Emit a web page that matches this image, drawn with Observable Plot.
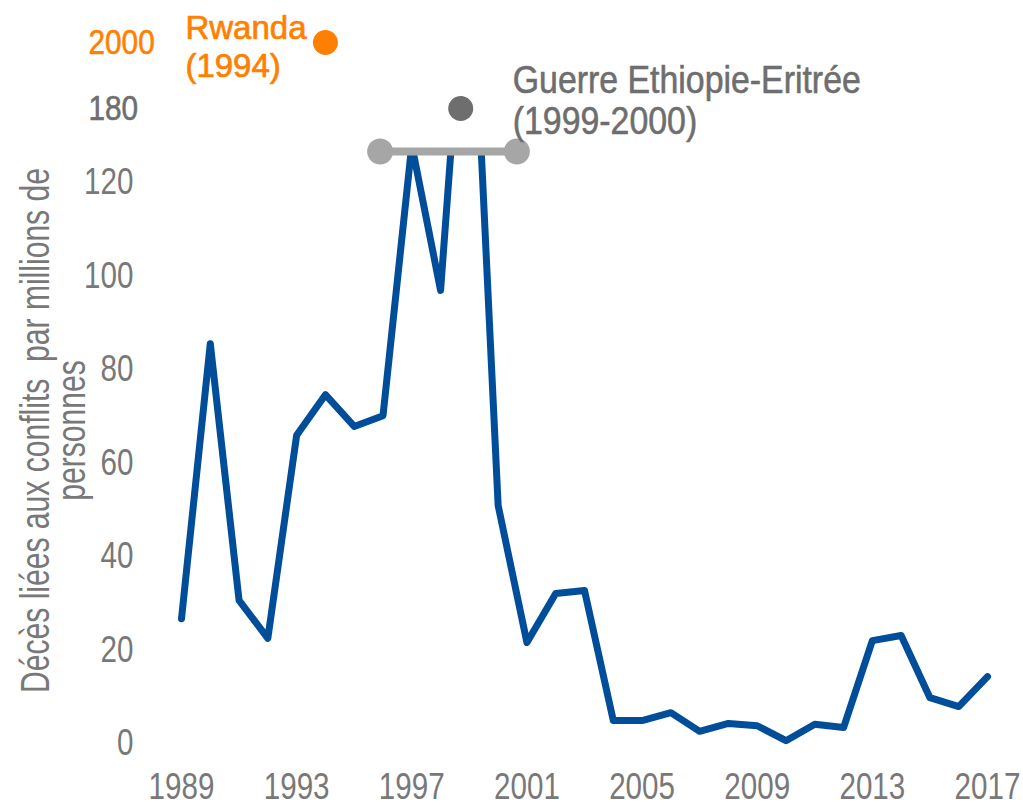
<!DOCTYPE html>
<html>
<head>
<meta charset="utf-8">
<script src="https://cdn.jsdelivr.net/npm/d3@7"></script>
<script src="https://cdn.jsdelivr.net/npm/@observablehq/plot@0.6"></script>
<style>
  html, body { margin: 0; padding: 0; background: #fff; }
  #wrap { position: relative; width: 1023px; height: 806px; }
  #wrap > svg, #wrap > figure { position: absolute; left: 0; top: 0; margin: 0; }
</style>
</head>
<body>
<div id="wrap"></div>
<script>
// ---- data ----
const years = [1989,1990,1991,1992,1993,1994,1995,1996,1997,1998,1999,2000,2001,2002,2003,2004,2005,2006,2007,2008,2009,2010,2011,2012,2013,2014,2015,2016,2017];
const deaths = [26.7,85.5,30.6,22.5,65.9,74.6,67.8,70.1,128,96.9,180,50.9,21.6,32.1,32.7,4.9,4.9,6.6,2.6,4.3,3.8,0.6,4.1,3.4,22.0,23.1,9.8,7.9,14.3];
const xTicks = [1989,1993,1997,2001,2005,2009,2013,2017];
const yTicks = [0,20,40,60,80,100,120];
const yTop = 126.6;                       // value where the axis is broken
const breakYears = [1995.9, 2000.65];      // extent of the break marker
const breakLevels = ["2000","180"];        // labels of the broken (upper) axis
const outliers = [
  {year: 1994, level: "2000", label: "Rwanda\n(1994)"},
  {year: 1998.7, level: "180", label: "Guerre Ethiopie-Eritrée\n(1999-2000)"}
];
const yTitle = "Décès liées aux conflits\u00a0 par millions de\npersonnes";

const series = years.map((y, i) => ({year: y, value: deaths[i]}));
const breakBar = breakYears.map(x => ({year: x, value: yTop}));

const FONT = "'Liberation Sans', Arial, sans-serif";
const GREY = "#787878";
const BLUE = "#004E99";
const ORANGE = "#FF8000";
const DGREY = "#6E6E6E";
const LGREY = "#A6A6A6";

// horizontal condensing per font size (emulates a narrow typeface)
const condenseBySize = {36: 0.81, 37: 0.8, 40: 0.752, 35: 0.85, 33: 1.0, 39: 0.868};

const W = 1023, H = 806;
const xOpts = {domain: [1989, 2017]};

// ---- main chart ----
const mainPlot = Plot.plot({
  width: W, height: H,
  marginLeft: 171, marginRight: 26, insetLeft: 10, insetRight: 10,
  marginTop: 151, marginBottom: 53, insetBottom: 10,
  style: {fontFamily: FONT, fontSize: "37px", color: GREY, background: "transparent"},
  x: {...xOpts, ticks: xTicks, tickFormat: "d", tickSize: 0, tickPadding: 19, label: null},
  y: {domain: [0, yTop], ticks: yTicks, tickSize: 0, tickPadding: 38, label: null},
  marks: [
    Plot.line(series, {x: "year", y: "value", stroke: BLUE, strokeWidth: 7,
      strokeLinejoin: "round", strokeLinecap: "round", clip: true}),
    Plot.line(breakBar, {x: "year", y: "value", stroke: LGREY, strokeWidth: 8}),
    Plot.dot(breakBar, {x: "year", y: "value", r: 13, fill: LGREY}),
    Plot.text([yTitle], {frameAnchor: "left", textAnchor: "middle", rotate: -90, dx: -116, dy: -22,
      fill: GREY, fontSize: 40, lineHeight: 0.9})
  ]
});

// ---- upper, broken part of the axis ----
const upperPlot = Plot.plot({
  width: W, height: H,
  marginLeft: 171, marginRight: 26, insetLeft: 10, insetRight: 10,
  style: {fontFamily: FONT, fontSize: "33px", background: "transparent"},
  x: {...xOpts, axis: null},
  y: {type: "point", domain: breakLevels, range: [42, 108], padding: 0, axis: null},
  marks: [
    Plot.text([breakLevels[0]], {y: d => d, frameAnchor: "left", textAnchor: "start", dx: -83,
      fill: ORANGE, stroke: ORANGE, strokeWidth: 0.6, fontSize: 35}),
    Plot.text([breakLevels[1]], {y: d => d, frameAnchor: "left", textAnchor: "start", dx: -83,
      fill: DGREY, stroke: DGREY, strokeWidth: 0.6, fontSize: 35}),
    Plot.dot([outliers[0]], {x: "year", y: "level", r: 12.5, fill: ORANGE}),
    Plot.dot([outliers[1]], {x: "year", y: "level", r: 12.5, fill: DGREY}),
    Plot.text([outliers[0]], {x: "year", y: "level", text: "label", textAnchor: "start",
      dx: -140, dy: 3, fill: ORANGE, stroke: ORANGE, strokeWidth: 0.7, fontSize: 33, lineHeight: 1.15}),
    Plot.text([outliers[1]], {x: "year", y: "level", text: "label", textAnchor: "start",
      dx: 52, dy: -8, fill: DGREY, stroke: DGREY, strokeWidth: 0.6, fontSize: 39, lineHeight: 1.05})
  ]
});

const wrap = document.getElementById("wrap");
wrap.appendChild(mainPlot);
wrap.appendChild(upperPlot);

function condense(root) {
  root.querySelectorAll("text").forEach(t => {
    const fs = Math.round(parseFloat(getComputedStyle(t).fontSize));
    const k = condenseBySize[fs];
    if (!k || k === 1) return;
    const spans = t.querySelectorAll("tspan");
    const leaves = spans.length ? Array.from(spans) : [t];
    leaves.forEach(el => {
      const L = el.getComputedTextLength();
      if (L > 0) {
        el.setAttribute("textLength", (L * k).toFixed(2));
        el.setAttribute("lengthAdjust", "spacingAndGlyphs");
      }
    });
  });
}
condense(mainPlot);
condense(upperPlot);
</script>
</body>
</html>
